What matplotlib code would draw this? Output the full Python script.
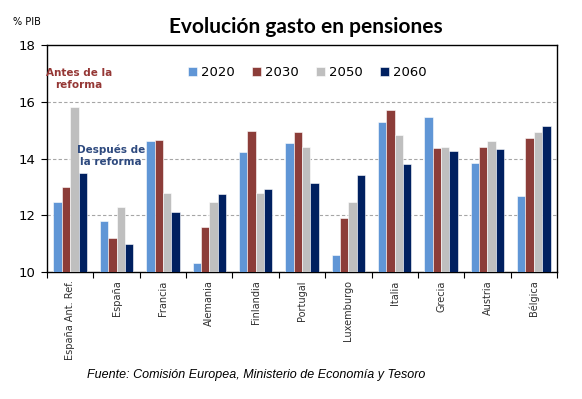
import numpy as np
import matplotlib.pyplot as plt

paises = ["España Ant. Ref.", "España", "Francia", "Alemania", "Finlandia", "Portugal",
          "Luxemburgo", "Italia", "Grecia", "Austria", "Bélgica"]
anios = ["2020", "2030", "2050", "2060"]
v2020 = [12.48, 11.8, 14.61, 10.32, 14.22, 14.55, 10.59, 15.29, 15.45, 13.85, 12.68]
v2030 = [12.99, 11.2, 14.64, 11.59, 14.98, 14.95, 11.92, 15.71, 14.37, 14.4, 14.72]
v2050 = [15.8, 12.3, 12.8, 12.46, 12.77, 14.39, 12.45, 14.83, 14.39, 14.6, 14.95]
v2060 = [13.48, 10.99, 12.12, 12.75, 12.93, 13.13, 13.42, 13.8, 14.26, 14.34, 15.15]
colores = ["#6096d6", "#8c3d39", "#bfbfbf", "#002060"]

fig = plt.figure(figsize=(5.82, 3.99), dpi=100)
ax = fig.add_axes([47/582, 1-272/399, 510/582, 227/399])

x = np.arange(len(paises))
w = 0.18
for i, serie in enumerate([v2020, v2030, v2050, v2060]):
    ax.bar(x + (i-1.5)*w, np.array(serie) - 10, w, bottom=10, color=colores[i],
           edgecolor="white", linewidth=0.4, label=anios[i], zorder=3)

ax.set_xlim(-0.5, len(paises)-0.5)
ax.set_ylim(10, 18)
ax.set_yticks([10, 12, 14, 16, 18])
for g in [12, 14, 16]:
    ax.axhline(g, color="#a6a6a6", linestyle=(0, (3, 2)), linewidth=0.8, zorder=1)

ax.set_xticks(np.arange(len(paises)+1) - 0.5, minor=False)
ax.set_xticklabels([])
ax.set_xticks(x, minor=True)
ax.set_xticklabels(paises, minor=True, rotation=90, fontsize=7, color="#303030")
ax.tick_params(axis="x", which="minor", length=0, pad=6)
ax.tick_params(axis="x", which="major", length=4, width=0.8, direction="out")
ax.tick_params(axis="y", length=4, width=0.8, labelsize=9.5, pad=4)
for s in ax.spines.values():
    s.set_color("black")
    s.set_linewidth(1.0)

ax.legend(loc="upper center", bbox_to_anchor=(0.51, 0.96), ncol=4, frameon=False,
          fontsize=9.5, handlelength=0.7, handleheight=0.7, columnspacing=1.3,
          handletextpad=0.3)

ax.text(0.19, 16.8, "Antes de la\nreforma", color="#953735", fontsize=7.5, fontweight="bold",
        ha="center", va="center", linespacing=1.3)
ax.text(0.88, 14.1, "Después de\nla reforma", color="#2e4a7f", fontsize=7.5, fontweight="bold",
        ha="center", va="center", linespacing=1.3)

fig.text(306/582, 1-27/399, "Evolución gasto en pensiones", fontsize=15, fontweight="bold",
         ha="center", va="center", family="Lato")
fig.text(13/582, 1-22/399, "% PIB", fontsize=7, ha="left", va="center")
fig.text(256/582, 1-375/399, "Fuente: Comisión Europea, Ministerio de Economía y Tesoro",
         fontsize=9, style="italic", ha="center", va="center", family="Liberation Sans")

fig.savefig("out.png", dpi=100)
